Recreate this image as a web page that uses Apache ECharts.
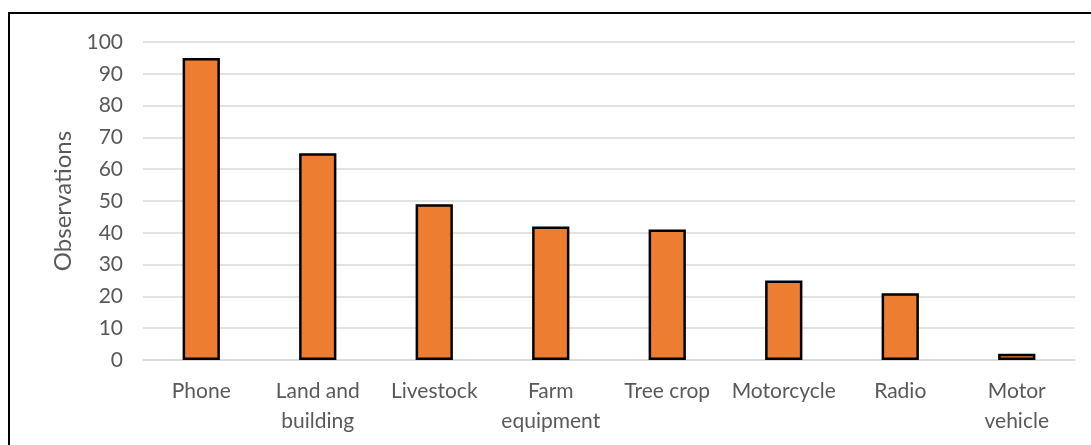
<!DOCTYPE html>
<html>
<head>
<meta charset="utf-8">
<script src="https://cdn.jsdelivr.net/npm/echarts@6/dist/echarts.min.js"></script>
<style>
html,body{margin:0;padding:0;background:#fff;}
#chart{width:1091px;height:445px;}
</style>
</head>
<body>
<div id="chart"></div>
<script>
const categories = ["Phone", "Land and\nbuilding", "Livestock", "Farm\nequipment", "Tree crop", "Motorcycle", "Radio", "Motor\nvehicle"];
const observations = [95, 65, 49, 42, 41, 25, 21, 2];
const yTicks = [0, 10, 20, 30, 40, 50, 60, 70, 80, 90, 100];

const chart = echarts.init(document.getElementById('chart'));
chart.setOption({
  animation: false,
  backgroundColor: '#fff',
  graphic: [{
    type: 'rect',
    shape: { x: 9, y: 13, width: 1100, height: 450 },
    style: { fill: 'none', stroke: '#000', lineWidth: 2 },
    silent: true
  }],
  grid: { left: 143, right: 16, top: 42, bottom: 85 },
  xAxis: {
    type: 'category',
    data: categories,
    axisLine: { show: true, lineStyle: { color: '#d9d9d9', width: 1.5 } },
    axisTick: { show: false },
    axisLabel: {
      color: '#595959', fontFamily: 'Lato', fontSize: 21, lineHeight: 30,
      margin: 16, interval: 0
    }
  },
  yAxis: {
    type: 'value',
    min: yTicks[0], max: yTicks[yTicks.length - 1], interval: 10,
    name: 'Observations',
    nameLocation: 'middle',
    nameGap: 66,
    nameTextStyle: { color: '#595959', fontFamily: 'Lato', fontSize: 24 },
    axisLine: { show: false },
    axisTick: { show: false },
    splitLine: { lineStyle: { color: '#d9d9d9', width: 1.5 } },
    axisLabel: { color: '#595959', fontFamily: 'Lato', fontSize: 21, margin: 20 }
  },
  series: [{
    type: 'bar',
    data: observations,
    barWidth: '32%',
    itemStyle: { color: '#ED7D31', borderColor: '#000', borderWidth: 2.5 }
  }]
});
</script>
</body>
</html>
